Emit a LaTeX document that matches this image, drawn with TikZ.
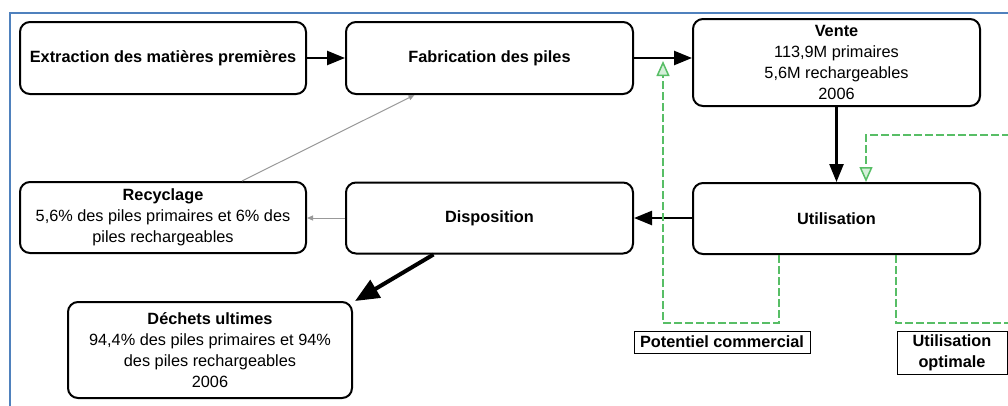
\documentclass[tikz,border=0pt]{standalone}
\usepackage{fontspec}
\setmainfont{Liberation Sans}
\usetikzlibrary{arrows.meta,calc}
\definecolor{frameblue}{RGB}{79,129,189}
\definecolor{dgreen}{RGB}{88,190,102}
\begin{document}
\begin{tikzpicture}[x=1pt,y=-1pt,
  box/.style={draw, line width=2pt, rounded corners=10pt, align=center,
    font=\fontsize{16.3}{21}\selectfont, inner sep=2pt},
  lab/.style={draw, line width=1pt, align=center, inner sep=0pt,
    font=\fontsize{16.3}{21}\selectfont\bfseries},
  blk/.style={line width=2.5pt, -{Triangle[length=18pt,width=14pt]}},
  blkbig/.style={line width=4pt, -{Triangle[length=24pt,width=20pt]}},
  gry/.style={line width=1pt, draw=gray!80, -{Triangle[length=6pt,width=5pt]}},
  grn/.style={line width=2pt, draw=dgreen, dash pattern=on 8pt off 3pt},
  grnarr/.style={grn, -{Triangle[length=15pt,width=13pt,line width=1.5pt,fill=dgreen!25]}}
]
\useasboundingbox (0,0) rectangle (1008,405);
\clip (0,0) rectangle (1008,405);
\fill[white] (0,0) rectangle (1008,405);
\draw[frameblue, line width=2pt] (10,420) -- (10,12.5) -- (1020,12.5);

\node[box, minimum width=286pt, minimum height=72pt] (extr) at (163,58) {\textbf{Extraction des matières premières}};
\node[box, minimum width=287pt, minimum height=72pt] (fab) at (489.5,58) {\textbf{Fabrication des piles}};
\node[box, minimum width=287pt, minimum height=87pt] (vente) at (836.5,62.5) {\textbf{Vente}\\113,9M primaires\\5,6M rechargeables\\2006};
\node[box, minimum width=287pt, minimum height=71pt] (util) at (836.5,218.5) {\textbf{Utilisation}};
\node[box, minimum width=287pt, minimum height=71pt] (disp) at (489.5,218) {\textbf{Disposition}};
\node[box, minimum width=286pt, minimum height=71pt] (recy) at (163,217.5) {\textbf{Recyclage}\\5,6\% des piles primaires et 6\% des\\piles rechargeables};
\node[box, minimum width=284pt, minimum height=96pt] (dech) at (210,350) {\textbf{Déchets ultimes}\\94,4\% des piles primaires et 94\%\\des piles rechargeables\\2006};

\node[lab, minimum width=176pt, minimum height=22pt] (pot) at (722,342) {Potentiel commercial};
\node[lab, minimum width=110pt, minimum height=43pt] (opt) at (952,352.5) {Utilisation\\optimale};

\draw[blk] (extr.east) -- (fab.west);
\draw[blk] (fab.east) -- (vente.west |- fab.east);
\draw[blk] (vente.south) -- (util.north);
\draw[blk] (util.west |- disp.east) -- (disp.east);
\draw[gry] (disp.west) -- (recy.east |- disp.west);
\draw[gry] ([xshift=79pt]recy.north) -- ([xshift=-75pt]fab.south);
\draw[blkbig] ([xshift=-56pt]disp.south) -- ([shift={(2pt,0pt)}]dech.north east);

\coordinate (pc1) at (779,323);
\coordinate (pc2) at (663,323);
\coordinate (pctip) at (663,61);
\draw[grnarr] ([xshift=-57.5pt]util.south) -- (pc1) -- (pc2) -- (pctip);

\coordinate (uo1) at (896,323);
\coordinate (uo2) at (1010,323);
\draw[grn] ([xshift=59.5pt]util.south) -- (uo1) -- (uo2);

\coordinate (tr1) at (1010,135);
\coordinate (tr2) at (866,135);
\draw[grnarr] (tr1) -- (tr2) -- ([xshift=29.5pt]util.north);
\end{tikzpicture}
\end{document}
